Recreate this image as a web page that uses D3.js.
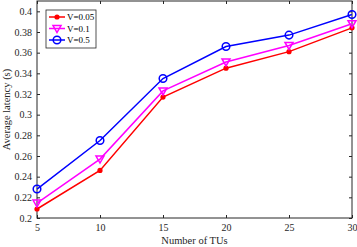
<!DOCTYPE html>
<html><head><meta charset="utf-8">
<script src="https://cdn.jsdelivr.net/npm/d3@7"></script>
<style>body{margin:0;background:#fff}svg{display:block}text{font-family:"Liberation Serif","Times New Roman",serif}</style>
</head><body><svg id="c" width="357" height="247"></svg>
<script>
const xValues = [5, 10, 15, 20, 25, 30];
const seriesNames = ["V=0.05", "V=0.1", "V=0.5"];
const v005 = [0.2087, 0.246, 0.317, 0.345, 0.361, 0.384];
const v01 = [0.2145, 0.257, 0.323, 0.351, 0.367, 0.388];
const v05 = [0.228, 0.275, 0.335, 0.366, 0.377, 0.397];
const xTicks = [5, 10, 15, 20, 25, 30];
const yTicks = [0.2, 0.22, 0.24, 0.26, 0.28, 0.3, 0.32, 0.34, 0.36, 0.38, 0.4];

const svg = d3.select("#c");
const L = 37, R = 352, T = 1, B = 218;
const x = d3.scaleLinear().domain([5, 30]).range([L, R]);
const y = d3.scaleLinear().domain([0.2, 0.41]).range([B, T]);
const axCol = "#262626";

const g = svg.append("g");
const fs = "10px";
const xa = g.append("g").attr("transform", `translate(0,${B})`)
  .call(d3.axisBottom(x).tickValues(xTicks).tickSize(-3).tickPadding(6).tickFormat(d3.format("d")));
const xt = g.append("g").attr("transform", `translate(0,${T})`)
  .call(d3.axisTop(x).tickValues(xTicks).tickSize(-3).tickFormat(""));
const ya = g.append("g").attr("transform", `translate(${L},0)`)
  .call(d3.axisLeft(y).tickValues(yTicks).tickSize(-3).tickPadding(5).tickFormat(d => d3.format("")(+d.toFixed(2))));
const yr = g.append("g").attr("transform", `translate(${R},0)`)
  .call(d3.axisRight(y).tickValues(yTicks).tickSize(-3).tickFormat(""));
[xa, xt, ya, yr].forEach(a => {
  a.selectAll("path").remove();
  a.selectAll("line").attr("stroke", axCol);
  a.selectAll("text").attr("fill", axCol).style("font-size", fs).style("font-family", '"Liberation Serif",serif');
});
g.append("rect").attr("x", L).attr("y", T).attr("width", R - L).attr("height", B - T)
  .attr("fill", "none").attr("stroke", axCol).attr("stroke-width", 1);

const series = [
  {name: seriesNames[0], data: v005, color: "#ff0000", marker: "dot"},
  {name: seriesNames[1], data: v01, color: "#ff00ff", marker: "tri"},
  {name: seriesNames[2], data: v05, color: "#0000ff", marker: "circ"}
];
const line = d3.line().x((d, i) => x(xValues[i])).y(d => y(d));
function marker(sel, s, cx, cy) {
  if (s.marker === "dot") sel.append("circle").attr("cx", cx).attr("cy", cy).attr("r", 2.6).attr("fill", s.color);
  else if (s.marker === "tri") sel.append("path").attr("d", `M${cx-4},${cy-3}L${cx+4},${cy-3}L${cx},${cy+4}Z`).attr("fill", "none").attr("stroke", s.color).attr("stroke-width", 1.5);
  else sel.append("circle").attr("cx", cx).attr("cy", cy).attr("r", 3.8).attr("fill", "none").attr("stroke", s.color).attr("stroke-width", 1.5);
}
series.forEach(s => {
  g.append("path").datum(s.data).attr("d", line).attr("fill", "none").attr("stroke", s.color).attr("stroke-width", 1.5);
  s.data.forEach((d, i) => marker(g, s, x(xValues[i]), y(d)));
});

// legend
const lg = g.append("g");
lg.append("rect").attr("x", 46).attr("y", 10).attr("width", 50).attr("height", 38).attr("fill", "#fff").attr("stroke", axCol).attr("stroke-width", 0.8);
series.forEach((s, i) => {
  const yy = 17 + i * 11.5;
  lg.append("line").attr("x1", 49).attr("x2", 65).attr("y1", yy).attr("y2", yy).attr("stroke", s.color).attr("stroke-width", 1.5);
  marker(lg, s, 57, yy);
  lg.append("text").attr("x", 67).attr("y", yy + 3.3).text(s.name).style("font-size", "9px").attr("fill", "#000");
});

g.append("text").attr("x", (L + R) / 2).attr("y", 244).attr("text-anchor", "middle").style("font-size", "10.5px").attr("fill", axCol).text("Number of TUs");
g.append("text").attr("transform", `translate(10,${(T + B) / 2}) rotate(-90)`).attr("text-anchor", "middle").style("font-size", "10.5px").attr("fill", axCol).text("Average latency (s)");
</script></body></html>
